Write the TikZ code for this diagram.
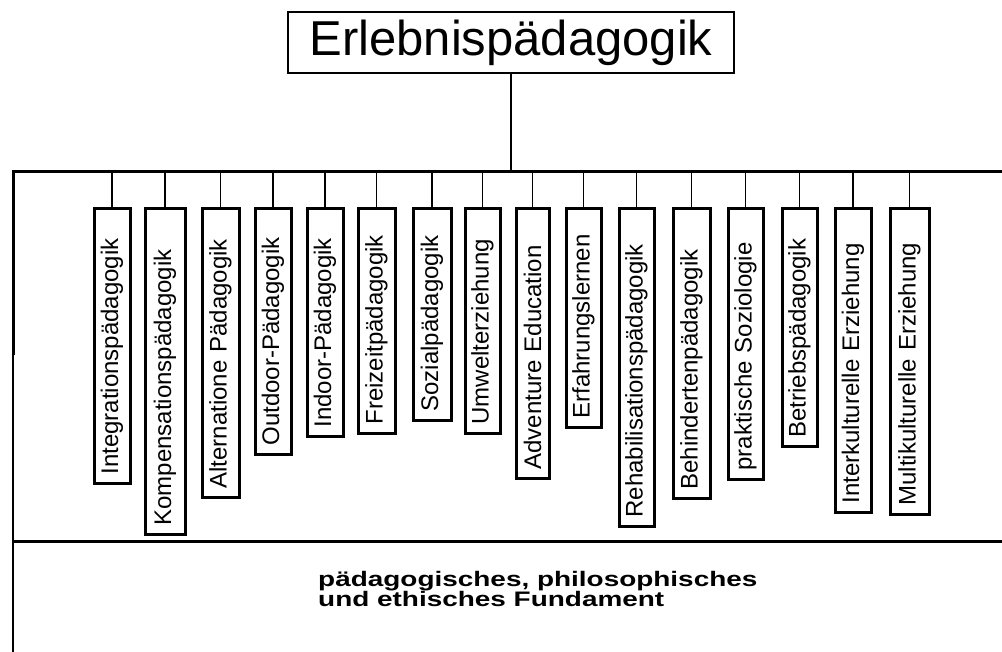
\documentclass[tikz,border=0pt]{standalone}
\usepackage{fontspec}
\setmainfont{Liberation Sans}
\begin{document}
\begin{tikzpicture}[x=1pt,y=-1pt,
  vbox/.style={draw, line width=3pt, rotate=90, anchor=east, inner xsep=9pt, inner ysep=0pt,
    align=left, font=\fontsize{24}{26}\selectfont},
  stem/.style={line width=1.3pt},
  bar/.style={line width=3pt},
  titlebox/.style={draw, line width=2.4pt, minimum width=446pt, minimum height=61pt, inner sep=0pt,
    font=\fontsize{49}{52}\selectfont},
  fundtext/.style={anchor=base west, inner sep=0pt, font=\bfseries\fontsize{21}{22}\selectfont}]
\useasboundingbox (0,0) rectangle (1002,652);
% title
\node[titlebox] (top) at (511,42.5) {Erlebnispädagogik};
% frame
\coordinate (barL) at (13,172);
\coordinate (barR) at (1002,172);
\coordinate (leftmid) at (13,355);
\coordinate (leftbot) at (13,652);
\coordinate (baseL) at (12,541);
\coordinate (baseR) at (1002,541);
\draw[bar, line join=miter] (barR) -- (barL) -- (leftmid);
\draw[line width=1.6pt] (leftmid) -- (leftbot);
\draw[bar] (baseL) -- (baseR);
\draw[line width=2.6pt] (top.south) -- (top.south |- barL);
% vertical boxes
\foreach \n/\xl/\xr/\yb/\t in {
  1/94/130/482/Integrationspädagogik,
  2/145/185/533/Kompensationspädagogik,
  3/202/239/496/Alternatione Pädagogik,
  4/255/291/453/Outdoor-Pädagogik,
  5/307/343/435/Indoor-Pädagogik,
  6/358/395/432/Freizeitpädagogik,
  7/413/451/419/Sozialpädagogik,
  8/465/500/432/Umwelterziehung,
  9/516/549/477/Adventure Education,
  10/566/601/426/Erfahrungslernen,
  11/619/654/525/Rehabilisationspädagogik,
  12/673/710/497/Behindertenpädagogik,
  13/728/763/478/praktische Soziologie,
  14/782/817/445/Betriebspädagogik,
  15/835/871/511/Interkulturelle Erziehung,
  16/890/929/513/Multikulturelle Erziehung}{
  \pgfmathsetmacro\w{\xr-\xl}
  \pgfmathsetmacro\tw{\yb-207-18}
  \pgfmathsetmacro\xc{(\xl+\xr)/2}
  \node[vbox, minimum height=\w pt, text width=\tw pt] (b\n) at (\xc,207) {\t};
  \draw[stem] (b\n.east |- barL) -- (b\n.east);
}
% foundation text
\node[fundtext] (fund1) at (318,586) {\scalebox{1.33}[1]{pädagogisches, philosophisches}};
\node[fundtext] (fund2) at (318,606) {\scalebox{1.33}[1]{und ethisches Fundament}};
\end{tikzpicture}
\end{document}
